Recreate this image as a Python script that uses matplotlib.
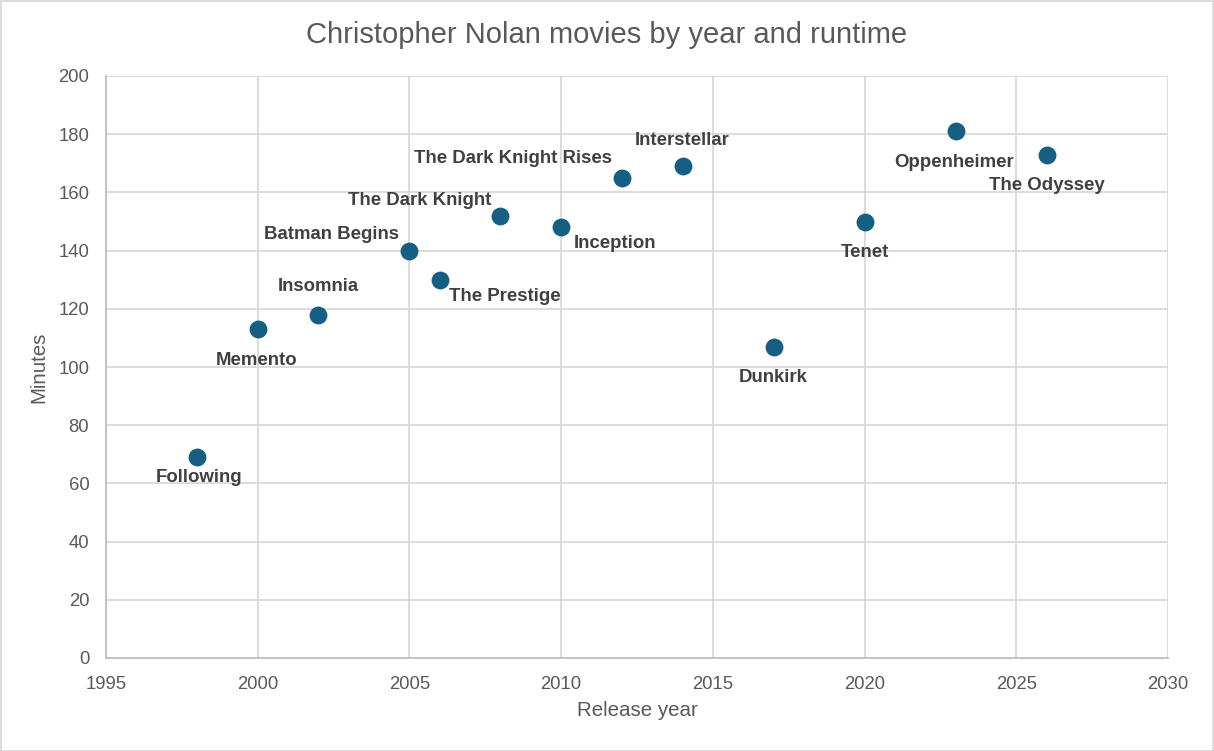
import matplotlib
matplotlib.use("Agg")
import matplotlib.pyplot as plt
from matplotlib.patches import Rectangle

titles = ["Following", "Memento", "Insomnia", "Batman Begins", "The Prestige",
          "The Dark Knight", "Inception", "The Dark Knight Rises", "Interstellar",
          "Dunkirk", "Tenet", "Oppenheimer", "The Odyssey"]
years = [1998, 2000, 2002, 2005, 2006, 2008, 2010, 2012, 2014, 2017, 2020, 2023, 2026]
minutes = [69, 113, 118, 140, 130, 152, 148, 165, 169, 107, 150, 181, 173]

x_ticks = [1995, 2000, 2005, 2010, 2015, 2020, 2025, 2030]
y_ticks = [0, 20, 40, 60, 80, 100, 120, 140, 160, 180, 200]

# label placement: (dx px, dy px (down positive), horizontal alignment)
placement = [(2, 18, "center"), (-1, 29, "center"), (0, -30, "center"),
             (-10, -18, "right"), (9, 15, "left"), (-9, -17, "right"),
             (13, 14, "left"), (-10, -21, "right"), (0, -28, "center"),
             (0, 29, "center"), (0, 29, "center"), (-1, 29, "center"),
             (0, 29, "center")]

plt.rcParams['font.family'] = ['Liberation Sans', 'DejaVu Sans']

W, H = 1214, 751
fig = plt.figure(figsize=(W / 100, H / 100), dpi=100)
ax = fig.add_axes([106 / W, 1 - 658 / H, (1168 - 106) / W, (658 - 76) / H])

ax.scatter(years, minutes, s=165, color="#156082", zorder=3, linewidths=0)

for t, xv, yv, (dx, dy, ha) in zip(titles, years, minutes, placement):
    ax.annotate(t, (xv, yv), xytext=(dx, -dy - 2), textcoords="offset pixels",
                ha=ha, va="center", fontsize=13.4, fontweight="bold",
                color="#404040", zorder=4)

ax.set_xlim(1995, 2030)
ax.set_ylim(0, 200)
ax.set_xticks(x_ticks)
ax.set_yticks(y_ticks)
ax.grid(True, color="#d9d9d9", linewidth=1.3, zorder=0)
ax.set_axisbelow(True)
for s in ["top", "right"]:
    ax.spines[s].set_visible(False)
for s in ["left", "bottom"]:
    ax.spines[s].set_color("#bfbfbf")
    ax.spines[s].set_linewidth(1.3)
ax.tick_params(length=0, labelsize=13.3, colors="#595959", pad=12)
ax.tick_params(axis="x", pad=13)

ax.set_xlabel("Release year", fontsize=14.8, color="#595959", labelpad=6)
ax.set_ylabel("Minutes", fontsize=14.8, color="#595959", labelpad=7)
fig.text(0.5, 1 - 35 / H, "Christopher Nolan movies by year and runtime",
         ha="center", va="center", fontsize=21, color="#595959")

fig.patches.append(Rectangle((0.5 / W, 0.5 / H), 1 - 1.5 / W, 1 - 1.5 / H,
                             transform=fig.transFigure, fill=False,
                             edgecolor="#d9d9d9", linewidth=1.3))

fig.savefig("out.png", dpi=100)
